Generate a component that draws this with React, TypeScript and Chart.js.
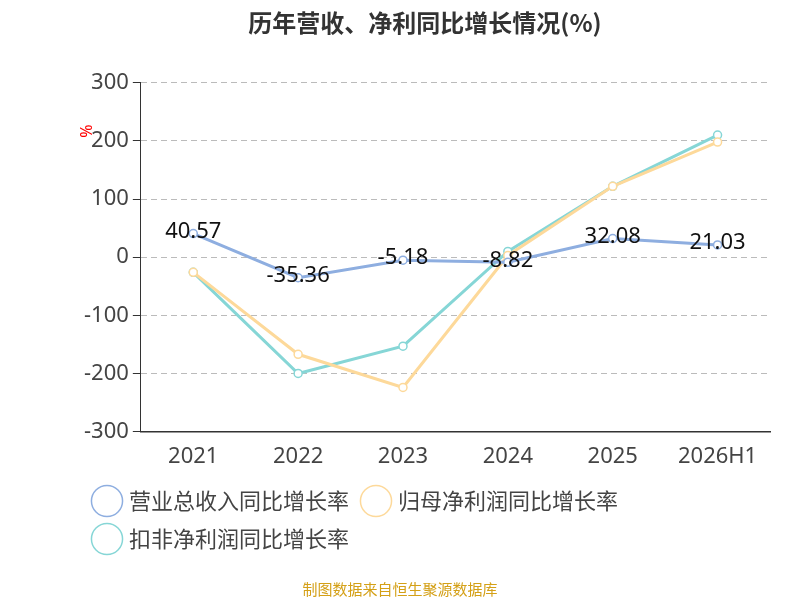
import React, { useEffect, useRef } from "react";
import { Chart, registerables } from "chart.js";
Chart.register(...registerables);

const categories = ["2021", "2022", "2023", "2024", "2025", "2026H1"];
const revenue = [40.57, -35.36, -5.18, -8.82, 32.08, 21.03];
const netProfit = [-26, -167, -224, 3, 122, 198];
const deductedProfit = [-26, -200, -153, 10, 122, 210];
const yTicks = [300, 200, 100, 0, -100, -200, -300];

const extras = {
  id: "extras",
  afterDatasetsDraw(chart: any) {
    const ctx = chart.ctx;
    const meta = chart.getDatasetMeta(0);
    ctx.save();
    ctx.font = "22px 'Noto Sans', sans-serif";
    ctx.fillStyle = "#111";
    ctx.textAlign = "center";
    ctx.textBaseline = "middle";
    meta.data.forEach((p: any, i: number) => {
      ctx.fillText(String(revenue[i]), p.x, p.y - 2);
    });
    ctx.fillStyle = "red";
    ctx.font = "16px 'Noto Sans', sans-serif";
    ctx.translate(87, 131);
    ctx.rotate(-Math.PI / 2);
    ctx.fillText("%", 0, 0);
    ctx.restore();
    ctx.save();
    ctx.fillStyle = "#d4a017";
    ctx.font = "15px 'Noto Sans CJK SC', sans-serif";
    ctx.textAlign = "center";
    ctx.textBaseline = "middle";
    ctx.fillText("制图数据来自恒生聚源数据库", 400, 589);
    ctx.restore();
  },
};

export default function App() {
  const ref = useRef<HTMLCanvasElement>(null);
  useEffect(() => {
    const ds = (label: string, data: number[], color: string) => ({
      label, data, borderColor: color, backgroundColor: "#fff",
      borderWidth: 3, pointRadius: 4, pointBorderWidth: 1.5, pointBorderColor: color, tension: 0,
    });
    const chart = new Chart(ref.current!, {
      type: "line",
      data: {
        labels: categories,
        datasets: [
          ds("营业总收入同比增长率", revenue, "#8eaee0"),
          ds("归母净利润同比增长率", netProfit, "#fdd99a"),
          ds("扣非净利润同比增长率", deductedProfit, "#86d6d6"),
        ],
      },
      options: {
        responsive: false, animation: false,
        layout: { padding: { left: 80, right: 30, bottom: 40, top: 8 } },
        plugins: {
          title: { display: true, text: "历年营收、净利同比增长情况(%)", color: "#333",
            font: { size: 24, weight: "bold", family: "'Noto Sans CJK SC', sans-serif" }, padding: { top: 0, bottom: 46 } },
          legend: { position: "bottom", align: "start",
            labels: { usePointStyle: true, pointStyle: "circle", boxWidth: 24, boxHeight: 24, padding: 16,
              color: "#444", font: { size: 22, family: "'Noto Sans CJK SC', sans-serif" } } },
          tooltip: { enabled: false },
        },
        scales: {
          x: { offset: true, grid: { display: false, drawTicks: true },
            border: { color: "#333", width: 1.5 },
            ticks: { color: "#444", font: { size: 22, family: "'Noto Sans', sans-serif" }, padding: 4 } },
          y: { min: -300, max: 300, afterBuildTicks: (s: any) => { s.ticks = yTicks.map(v => ({ value: v })); },
            grid: { color: "#bbb", tickLength: 8, tickColor: "#333" }, border: { dash: [6, 4], color: "#333" },
            ticks: { color: "#444", font: { size: 22, family: "'Noto Sans', sans-serif" }, padding: 4 } },
        },
      } as any,
      plugins: [extras],
    });
    return () => chart.destroy();
  }, []);
  return <div style={{ position: "fixed", left: 0, top: 0 }}><canvas ref={ref} width={800} height={600} /></div>;
}
